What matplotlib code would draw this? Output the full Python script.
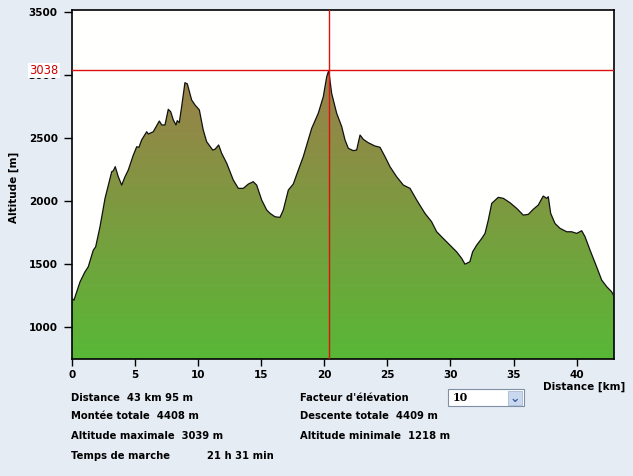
import numpy as np
import matplotlib
matplotlib.use("Agg")
import matplotlib.pyplot as plt
from matplotlib.colors import LinearSegmentedColormap
from matplotlib.patches import Rectangle

# ---- data ----
distance_km = [0.0, 0.18, 0.66, 1.05, 1.31, 1.71, 1.90, 2.24, 2.64, 3.17, 3.30, 3.45,
               3.69, 3.96, 4.22, 4.48, 4.88, 5.15, 5.33, 5.54, 5.94, 6.07, 6.46, 6.94,
               7.13, 7.39, 7.65, 7.84, 8.05, 8.26, 8.36, 8.52, 8.71, 8.97, 9.16, 9.50,
               9.77, 10.11, 10.42, 10.69, 11.17, 11.35, 11.64, 11.88, 12.28, 12.80,
               13.20, 13.59, 13.99, 14.38, 14.65, 15.05, 15.45, 15.71, 16.10, 16.50,
               16.76, 17.16, 17.55, 17.95, 18.34, 19.01, 19.53, 19.93, 20.20, 20.36,
               20.59, 20.99, 21.39, 21.65, 21.91, 22.30, 22.57, 22.84, 23.10, 23.49,
               24.02, 24.42, 24.82, 25.21, 25.74, 26.27, 26.80, 27.33, 27.98, 28.51,
               28.91, 29.43, 29.96, 30.49, 30.89, 31.15, 31.54, 31.76, 32.08, 32.48,
               32.74, 33.00, 33.27, 33.79, 34.19, 34.72, 35.25, 35.77, 36.17, 36.56,
               36.96, 37.35, 37.62, 37.75, 37.94, 38.28, 38.68, 39.21, 39.60, 40.00,
               40.40, 40.66, 41.06, 41.58, 41.98, 42.38, 42.77, 42.98]
altitude_m = [1230, 1217, 1362, 1441, 1481, 1613, 1640, 1798, 2024, 2235, 2243, 2275,
              2195, 2129, 2195, 2248, 2367, 2433, 2429, 2487, 2552, 2534, 2552, 2637,
              2606, 2606, 2730, 2711, 2645, 2606, 2640, 2624, 2751, 2941, 2931, 2804,
              2764, 2725, 2566, 2473, 2407, 2413, 2447, 2381, 2302, 2169,
              2103, 2103, 2137, 2156, 2129, 2010, 1931, 1905, 1878, 1873,
              1931, 2090, 2137, 2248, 2354, 2579, 2698, 2830, 2989, 3038,
              2857, 2698, 2592, 2487, 2421, 2402, 2407, 2526, 2492, 2465,
              2439, 2429, 2354, 2275, 2195, 2129, 2103, 2010, 1905, 1838,
              1759, 1706, 1653, 1600, 1548, 1502, 1521, 1600, 1653, 1706,
              1746, 1852, 1984, 2032, 2024, 1989, 1944, 1891, 1897, 1937,
              1971, 2042, 2024, 2037, 1905, 1825, 1786, 1759, 1759, 1746,
              1767, 1720, 1613, 1481, 1376, 1323, 1283, 1243]

x_ticks = [0, 5, 10, 15, 20, 25, 30, 35, 40]
y_ticks = [1000, 1500, 2000, 2500, 3000, 3500]
cursor_km = 20.36
cursor_alt = 3038

info_left = ["Distance  43 km 95 m", "Montée totale  4408 m",
             "Altitude maximale  3039 m", "Temps de marche"]
walk_time = "21 h 31 min"
info_right = ["Facteur d'élévation", "Descente totale  4409 m",
              "Altitude minimale  1218 m"]
elev_factor = "10"

# ---- figure ----
W, H = 633, 476
fig = plt.figure(figsize=(W / 100, H / 100), dpi=100)
bg = "#e6ecf4"
fig.patch.set_facecolor(bg)

ax = fig.add_axes([71.7 / W, 1 - 359 / H, (614.3 - 71.7) / W, (359 - 10.3) / H])
ax.set_facecolor("#fffffd")
ymin, ymax = 750, 3515
xmax = 42.98
ax.set_xlim(0, xmax)
ax.set_ylim(ymin, ymax)

# gradient fill
poly = ax.fill_between(distance_km, altitude_m, ymin, color="none", lw=0)
cmap = LinearSegmentedColormap.from_list("g", ["#58b836", "#7c9b40", "#9c7f4a"])
top = max(altitude_m)
grad = np.linspace(0, 1, 256).reshape(-1, 1)
im = ax.imshow(grad, extent=[0, xmax, ymin, top], origin="lower", aspect="auto",
               cmap=cmap, zorder=1)
im.set_clip_path(poly.get_paths()[0], transform=ax.transData)
ax.plot(distance_km, altitude_m, color="#111111", lw=0.9, zorder=3)

# cursor
ax.axvline(cursor_km, color="#dd1010", lw=1.0, zorder=4)
ax.axhline(cursor_alt, color="#dd1010", lw=1.0, zorder=4)

for s in ["top", "right", "bottom", "left"]:
    ax.spines[s].set_color("black")
    ax.spines[s].set_linewidth(1.2)

ax.set_xticks(x_ticks)
ax.set_yticks(y_ticks)
ax.set_yticklabels([f"{v}" for v in y_ticks])
ax.tick_params(axis="y", length=6, width=1, direction="out", labelsize=7.5, pad=4)
ax.tick_params(axis="x", length=5, width=1, direction="out", labelsize=7.5, pad=3)
for lab in ax.get_xticklabels() + ax.get_yticklabels():
    lab.set_fontweight("bold")

# cursor altitude label (covers the 3000 tick label as in the reference)
ax.text(-0.024, cursor_alt, f"{cursor_alt}", transform=ax.get_yaxis_transform(),
        ha="right", va="center", color="#cc0000", fontsize=8.3,
        bbox=dict(facecolor="white", edgecolor="none", pad=1.0), zorder=10,
        clip_on=False)

fig.text(14 / W, 1 - 187 / H, "Altitude [m]", rotation=90, ha="center", va="center",
         fontsize=7.5, fontweight="bold")
fig.text(625 / W, 1 - 387 / H, "Distance [km]", ha="right", va="center",
         fontsize=7.5, fontweight="bold")

fs = 7.2
ys = [398, 416, 436, 456]
for t, y in zip(info_left, ys):
    fig.text(71 / W, 1 - y / H, t, ha="left", va="center", fontsize=fs, fontweight="bold")
fig.text(207 / W, 1 - 456 / H, walk_time, ha="left", va="center", fontsize=fs,
         fontweight="bold")
for t, y in zip(info_right, ys[:3]):
    fig.text(300 / W, 1 - y / H, t, ha="left", va="center", fontsize=fs, fontweight="bold")

# combo box
fig.patches.append(Rectangle((447.5 / W, 1 - 406 / H), 76 / W, 17 / H,
                             transform=fig.transFigure, facecolor="white",
                             edgecolor="#7f8fa6", lw=0.8))
fig.patches.append(Rectangle((508 / W, 1 - 404.5 / H), 14 / W, 14 / H,
                             transform=fig.transFigure, facecolor="#c9d8ef",
                             edgecolor="#aabbd6", lw=0.6))
fig.text(515 / W, 1 - 398 / H, "⌄", ha="center", va="center", fontsize=9,
         color="#3a5a9a", fontweight="bold")
fig.text(453 / W, 1 - 397.5 / H, elev_factor, ha="left", va="center", fontsize=8,
         fontweight="bold", family="DejaVu Serif")

fig.savefig("out.png", dpi=100, facecolor=bg)
